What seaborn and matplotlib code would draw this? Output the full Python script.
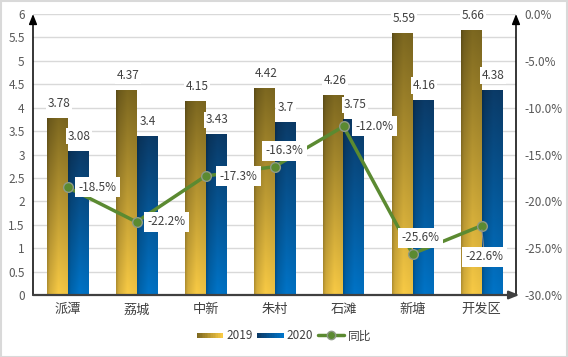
import numpy as np
import pandas as pd
import matplotlib
matplotlib.use('Agg')
import matplotlib.pyplot as plt
import matplotlib.colors as mcolors
import seaborn as sns
from matplotlib.legend_handler import HandlerBase
from matplotlib.patches import Rectangle
from matplotlib.lines import Line2D

regions = ['派潭', '荔城', '中新', '朱村', '石滩', '新塘', '开发区']
v2019 = [3.78, 4.37, 4.15, 4.42, 4.26, 5.59, 5.66]
v2020 = [3.08, 3.40, 3.43, 3.70, 3.75, 4.16, 4.38]
yoy = [-18.5, -22.2, -17.3, -16.3, -12.0, -25.6, -22.6]
years = ['2019', '2020']
yoy_name = '同比'
left_ticks = np.arange(0, 6.01, 0.5)
right_ticks = np.arange(-30, 0.01, 5)

# label offsets (px) for the line labels
lbl_off = [(30, 0), (30, 0), (33, 0), (10, 16), (31, 0), (8, 16), (3, -31)]

sns.set_theme(style='white')
plt.rcParams['font.family'] = ['Noto Sans CJK SC', 'DejaVu Sans']

GOLD = ('#7d6820', '#f8ca45')
BLUE = ('#0b3b68', '#0074c8')
LINE_C = '#5b8a31'
TXT = '#404040'
TICK = '#595959'

fig = plt.figure(figsize=(5.68, 3.57), dpi=100)
ax = fig.add_axes([33/568, 1-295/357, (516-33)/568, (295-14)/357])

df = pd.DataFrame({'region': regions * 2,
                   'value': v2019 + v2020,
                   'year': [years[0]] * len(regions) + [years[1]] * len(regions)})
sns.barplot(data=df, x='region', y='value', hue='year', hue_order=years,
            palette=[GOLD[1], BLUE[1]], width=0.58, ax=ax, legend=False,
            saturation=1, linewidth=0, errorbar=None)


def grad_img(top, bottom, n=64, m=32):
    top = np.array(mcolors.to_rgb(top))
    bottom = np.array(mcolors.to_rgb(bottom))
    t = np.linspace(0, 1, n)[:, None, None]
    base = top * (1 - t) + bottom * t
    xs = np.linspace(0, 1, m)
    shade = np.interp(xs, [0, 0.12, 0.55, 1], [0.72, 0.86, 1.0, 0.96])[None, :, None]
    return np.clip(base * shade, 0, 1)


for cont, cols in zip(ax.containers, [GOLD, BLUE]):
    img = grad_img(*cols)
    for p in cont.patches:
        x0, y0 = p.get_x(), p.get_y()
        w, h = p.get_width(), p.get_height()
        im = ax.imshow(img, extent=[x0, x0 + w, y0, y0 + h], origin='upper',
                       aspect='auto', zorder=2, interpolation='bilinear')
        im.set_clip_path(p)
        p.set_facecolor('none')

for cont in ax.containers:
    for p in cont.patches:
        xc = p.get_x() + p.get_width() / 2
        hgt = p.get_height()
        ax.annotate(f'{hgt:g}', xy=(xc, hgt), xytext=(1, 10.5), textcoords='offset points',
                    ha='center', va='center', fontsize=8.5, color=TXT, zorder=5,
                    bbox=dict(boxstyle='square,pad=0.15', fc='white', ec='none'))

ax.set_xlim(-0.5, len(regions) - 0.5)
ax.set_ylim(0, 6)
ax.set_yticks(left_ticks)
ax.set_yticklabels([f'{v:g}' for v in left_ticks])
ax.set_xlabel('')
ax.set_ylabel('')
ax.yaxis.grid(True, color='#d9d9d9', lw=1)
ax.set_axisbelow(True)
ax.tick_params(axis='y', length=0, pad=6, labelsize=8.5, labelcolor=TICK)
ax.tick_params(axis='x', length=0, pad=6, labelsize=9.5, labelcolor=TXT)
for s in ax.spines.values():
    s.set_visible(False)

ax2 = ax.twinx()
sns.lineplot(x=np.arange(len(regions)), y=yoy, ax=ax2, color=LINE_C, lw=2.5,
             marker='o', markersize=7, markerfacecolor=LINE_C,
             markeredgecolor='#8e9a86', markeredgewidth=1, zorder=4)
ax2.set_ylim(-30, 0)
ax2.set_yticks(right_ticks)
ax2.set_yticklabels([f'{v:.1f}%' for v in right_ticks])
ax2.tick_params(axis='y', length=0, pad=6, labelsize=8.5, labelcolor=TICK)
ax2.set_xlim(-0.5, len(regions) - 0.5)
for s in ax2.spines.values():
    s.set_visible(False)
ax2.grid(False)

for i, (v, off) in enumerate(zip(yoy, lbl_off)):
    kw = {}
    if off[1] < -20:
        kw['arrowprops'] = dict(arrowstyle='-', color='#8c8c8c', lw=0.8,
                                shrinkA=0, shrinkB=3)
    ax2.annotate(f'{v:.1f}%', xy=(i, v), xytext=(off[0] * 0.72, off[1] * 0.72),
                 textcoords='offset points', ha='center', va='center',
                 fontsize=8.5, color=TXT, zorder=6,
                 bbox=dict(boxstyle='square,pad=0.3', fc='white', ec='none'), **kw)

# axis lines with arrows
arr = dict(arrowstyle='-|>,head_length=0.5,head_width=0.2', color='black', lw=1.1,
           shrinkA=0, shrinkB=0)
ax2.annotate('', xy=(0, 1.0), xytext=(0, 0), xycoords='axes fraction',
             arrowprops=arr, annotation_clip=False)
ax2.annotate('', xy=(1, 1.0), xytext=(1, 0), xycoords='axes fraction',
             arrowprops=arr, annotation_clip=False)
arr_b = dict(arrowstyle='-|>,head_length=0.5,head_width=0.2', color='#404040', lw=1.6,
             shrinkA=0, shrinkB=0)
ax2.annotate('', xy=(1.007, 0), xytext=(0, 0), xycoords='axes fraction',
             arrowprops=arr_b, annotation_clip=False)


class GradHandler(HandlerBase):
    def __init__(self, c0, c1):
        super().__init__()
        self.c0 = np.array(mcolors.to_rgb(c0))
        self.c1 = np.array(mcolors.to_rgb(c1))

    def create_artists(self, legend, orig, xd, yd, w, h, fs, trans):
        n = 16
        arts = []
        for i in range(n):
            t = i / (n - 1)
            c = self.c0 * (1 - t) + self.c1 * t
            r = Rectangle((xd + w * i / n, yd + h * 0.22), w / n + 0.3, h * 0.56,
                          facecolor=c, edgecolor='none', transform=trans)
            arts.append(r)
        return arts


h1 = Rectangle((0, 0), 1, 1)
h2 = Rectangle((0, 0), 1, 1)
h3 = Line2D([], [], color=LINE_C, lw=2.5, marker='o', markersize=6,
            markerfacecolor=LINE_C, markeredgecolor='#8e9a86')
fig.legend([h1, h2, h3], years + [yoy_name], loc='center', bbox_to_anchor=(0.5, 0.059),
           ncol=3, frameon=False, fontsize=8.5, labelcolor=TXT, handlelength=2.2,
           handletextpad=0.3, columnspacing=0.4,
           handler_map={h1: GradHandler(*GOLD), h2: GradHandler(*BLUE)})

fig.patches.append(Rectangle((0.001, 0.001), 0.997, 0.996, transform=fig.transFigure,
                             fill=False, edgecolor='#d9d9d9', lw=1.5))

fig.savefig('out.png', dpi=100)
